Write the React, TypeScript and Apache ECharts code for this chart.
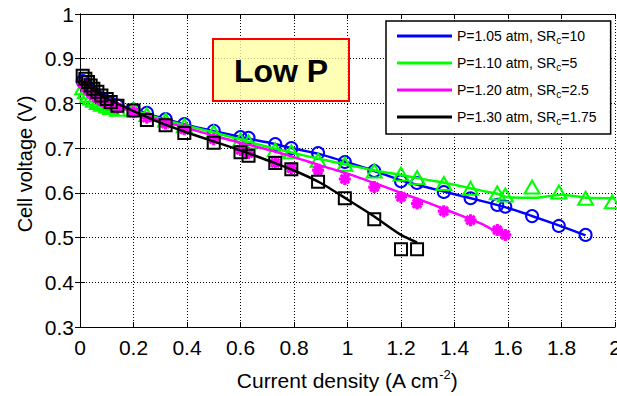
import React, { useEffect, useRef } from 'react';
import * as echarts from 'echarts';

const pressures = ['1.05', '1.10', '1.20', '1.30'];
const srValues = ['10', '5', '2.5', '1.75'];
const colors = ['#0000ff', '#00ff00', '#ff00ff', '#000000'];

// experimental current densities (A cm^-2)
const expX = [0.01, 0.02, 0.03, 0.04, 0.05, 0.065, 0.08, 0.1, 0.115, 0.14, 0.2, 0.25, 0.32, 0.39, 0.5, 0.6, 0.63, 0.73, 0.79, 0.89, 0.99, 1.1, 1.2, 1.26, 1.36, 1.46, 1.56, 1.59, 1.69, 1.79, 1.89, 1.99];
const blueExp = [0.85, 0.842, 0.835, 0.829, 0.823, 0.816, 0.81, 0.804, 0.8, 0.795, 0.786, 0.779, 0.765, 0.754, 0.739, 0.725, 0.723, 0.709, 0.7, 0.689, 0.669, 0.649, 0.626, 0.622, 0.602, 0.588, 0.573, 0.569, 0.548, 0.526, 0.506];
const greenExp = [0.835, 0.826, 0.818, 0.812, 0.807, 0.802, 0.798, 0.794, 0.791, 0.787, 0.787, 0.775, 0.763, 0.75, 0.736, 0.718, 0.714, 0.696, 0.692, 0.673, 0.664, 0.649, 0.642, 0.634, 0.621, 0.61, 0.6, 0.595, 0.613, 0.602, 0.588, 0.58];
const magentaExp = [0.845, 0.837, 0.83, 0.824, 0.818, 0.812, 0.806, 0.8, 0.796, 0.79, 0.78, 0.768, 0.755, 0.742, 0.72, 0.696, 0.689, 0.667, 0.655, 0.651, 0.631, 0.613, 0.591, 0.576, 0.559, 0.539, 0.517, 0.506];
const blackExp = [0.862, 0.855, 0.848, 0.84, 0.833, 0.826, 0.818, 0.81, 0.803, 0.795, 0.784, 0.763, 0.751, 0.734, 0.712, 0.691, 0.683, 0.667, 0.653, 0.625, 0.588, 0.541, 0.474, 0.474];

// model curves [x, y]
const blueModel = [[0, 0.848], [0.05, 0.822], [0.1, 0.805], [0.2, 0.787], [0.3, 0.768], [0.4, 0.752], [0.5, 0.738], [0.6, 0.725], [0.7, 0.713], [0.8, 0.699], [0.9, 0.686], [1.0, 0.668], [1.1, 0.649], [1.2, 0.628], [1.3, 0.612], [1.4, 0.597], [1.5, 0.582], [1.6, 0.566], [1.7, 0.546], [1.8, 0.525], [1.89, 0.505]];
const greenModel = [[0, 0.837], [0.05, 0.81], [0.1, 0.797], [0.2, 0.785], [0.3, 0.766], [0.4, 0.75], [0.5, 0.735], [0.6, 0.719], [0.7, 0.703], [0.8, 0.689], [0.9, 0.675], [1.0, 0.663], [1.1, 0.65], [1.2, 0.64], [1.3, 0.629], [1.4, 0.618], [1.5, 0.605], [1.56, 0.598], [1.6, 0.59], [1.7, 0.589], [1.8, 0.596], [1.9, 0.589], [2.0, 0.588]];
const magentaModel = [[0, 0.843], [0.05, 0.818], [0.1, 0.802], [0.2, 0.781], [0.3, 0.762], [0.4, 0.745], [0.5, 0.728], [0.6, 0.712], [0.7, 0.697], [0.8, 0.68], [0.9, 0.661], [1.0, 0.643], [1.1, 0.622], [1.2, 0.6], [1.3, 0.578], [1.4, 0.555], [1.5, 0.531], [1.56, 0.512], [1.59, 0.503]];
const blackModel = [[0, 0.852], [0.05, 0.83], [0.1, 0.811], [0.2, 0.783], [0.3, 0.757], [0.4, 0.735], [0.5, 0.715], [0.6, 0.695], [0.7, 0.673], [0.8, 0.65], [0.9, 0.622], [1.0, 0.585], [1.1, 0.547], [1.2, 0.506], [1.26, 0.489]];

const FONT = '"Liberation Sans", Arial, Helvetica, sans-serif';

const seriesName = (i: number) => `P=${pressures[i]} atm, SR_c=${srValues[i]}`;

export default function App() {
  const ref = useRef<HTMLDivElement>(null);
  useEffect(() => {
    if (!ref.current) return;
    const chart = echarts.init(ref.current, null, { renderer: 'svg' });
    const exps = [blueExp, greenExp, magentaExp, blackExp];
    const models = [blueModel, greenModel, magentaModel, blackModel];
    const symbols = ['circle', 'triangle', 'path://M0,-10L0,10M-10,0L10,0M-7,-7L7,7M-7,7L7,-7', 'rect'];
    const sizes: any[] = [12, [15, 13], 12, 12];

    const series: any[] = [];
    for (let i = 0; i < 4; i++) {
      series.push({
        type: 'line',
        name: seriesName(i),
        data: models[i],
        showSymbol: false,
        smooth: 0.2,
        lineStyle: { color: colors[i], width: 2.5 },
        itemStyle: { color: colors[i] },
        z: 2 + i * 2,
      });
      series.push({
        type: 'scatter',
        name: 'exp' + i,
        data: exps[i].map((y, k) => [expX[k], y]),
        symbol: symbols[i],
        symbolSize: sizes[i],
        itemStyle: {
          color: 'rgba(0,0,0,0)',
          borderColor: colors[i],
          borderWidth: i === 2 ? 3.2 : 2,
          opacity: 1,
        },
        z: 3 + i * 2,
      });
    }

    const axisCommon = {
      axisLine: { show: true, lineStyle: { color: '#000', width: 1 } },
      axisTick: { show: true, inside: true, length: 5, lineStyle: { color: '#000' } },
    };

    chart.setOption({
      animation: false,
      backgroundColor: '#ffffff',
      grid: { left: 80, right: 2, top: 14, bottom: 69, containLabel: false, outerBoundsMode: 'none' },
      xAxis: [
        {
          type: 'value', min: 0, max: 2, interval: 0.2,
          ...axisCommon,
          axisLabel: { color: '#000', fontSize: 21, fontFamily: FONT, margin: 10 },
          splitLine: { show: true, lineStyle: { color: '#000', type: [1, 2], width: 1 } },
        },
        {
          type: 'value', min: 0, max: 2, interval: 0.2, position: 'top',
          ...axisCommon,
          axisLabel: { show: false },
          splitLine: { show: false },
        },
      ],
      yAxis: [
        {
          type: 'value', min: 0.3, max: 1, interval: 0.1,
          ...axisCommon,
          axisLabel: { color: '#000', fontSize: 21, fontFamily: FONT, margin: 6 },
          splitLine: { show: true, lineStyle: { color: '#000', type: [1, 2], width: 1 } },
        },
        {
          type: 'value', min: 0.3, max: 1, interval: 0.1, position: 'right',
          ...axisCommon,
          axisLabel: { show: false },
          splitLine: { show: false },
        },
      ],
      legend: {
        data: [0, 1, 2, 3].map(seriesName),
        orient: 'vertical',
        left: 386,
        top: 21,
        padding: [8, 14, 8, 11],
        itemWidth: 55,
        itemHeight: 3,
        itemGap: 11,
        icon: 'rect',
        selectedMode: false,
        backgroundColor: '#ffffff',
        borderColor: '#000',
        borderWidth: 1.5,
        formatter: (name: string) => {
          const [a, b] = name.split('SR_c');
          return `{a|${a}SR}{s|c}{a|${b}}`;
        },
        textStyle: {
          color: '#000',
          fontFamily: FONT,
          fontSize: 14,
          rich: {
            a: { fontSize: 14, fontFamily: FONT, color: '#000', lineHeight: 18 },
            s: { fontSize: 10, fontFamily: FONT, color: '#000', lineHeight: 6, verticalAlign: 'bottom' },
          },
        },
        z: 20,
      },
      graphic: [
        {
          type: 'rect',
          shape: { x: 213, y: 39, width: 136, height: 62 },
          style: { fill: 'rgba(255,255,160,0.78)', stroke: '#ff0000', lineWidth: 2 },
          z: 10,
        },
        {
          type: 'text',
          x: 281, y: 71,
          style: { text: 'Low P', fill: '#000', font: `bold 32px ${FONT}`, align: 'center', verticalAlign: 'middle' },
          z: 11,
        },
        {
          type: 'text',
          x: 25, y: 164,
          rotation: Math.PI / 2,
          style: { text: 'Cell voltage (V)', fill: '#000', font: `20px ${FONT}`, align: 'center', verticalAlign: 'middle' },
        },
        {
          type: 'text',
          x: 347, y: 380,
          style: {
            text: '{a|Current density (A cm}{s|-2}{a|)}',
            align: 'center',
            verticalAlign: 'middle',
            fill: '#000',
            rich: {
              a: { fontSize: 21, fontFamily: FONT, fill: '#000', lineHeight: 24 },
              s: { fontSize: 13, fontFamily: FONT, fill: '#000', lineHeight: 14, verticalAlign: 'top' },
            },
          },
        },
      ],
      series,
    });
    return () => chart.dispose();
  }, []);
  return (
    <div
      ref={ref}
      style={{ position: 'fixed', left: 0, top: 0, width: 617, height: 396, background: '#fff' }}
    />
  );
}
